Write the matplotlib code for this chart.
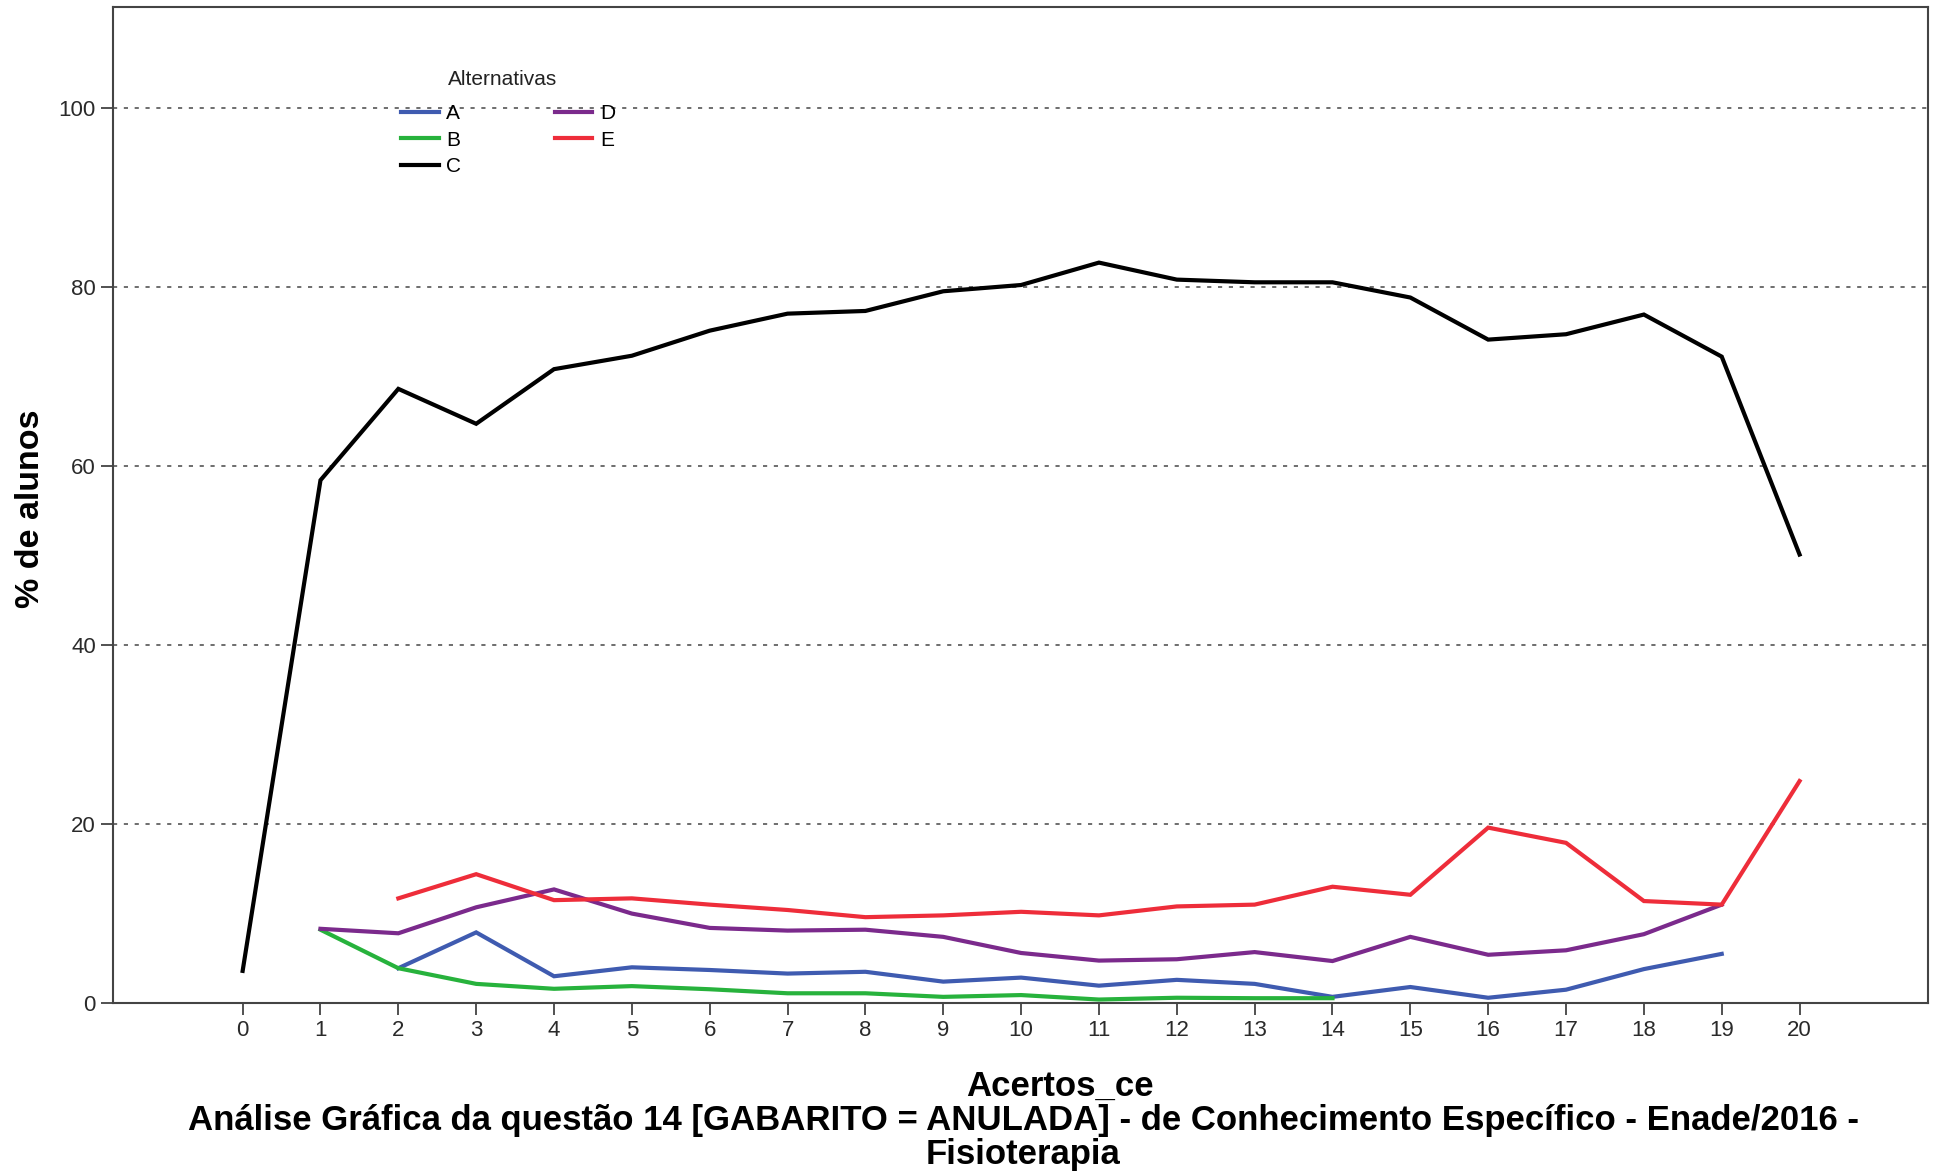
import matplotlib
matplotlib.use("Agg")
import matplotlib.pyplot as plt
import numpy as np

plt.rcParams['font.family'] = ['Liberation Sans', 'DejaVu Sans']

acertos = list(range(0, 21))

# percentage of students choosing each alternative, by number of correct answers
alt_A = [None, None, 3.9, 7.9, 3.0, 4.0, 3.7, 3.3, 3.5, 2.4, 2.85, 1.95, 2.6, 2.15, 0.7, 1.8, 0.6, 1.5, 3.8, 5.5, None]
alt_B = [None, 8.2, 3.9, 2.15, 1.6, 1.9, 1.55, 1.1, 1.1, 0.7, 0.9, 0.4, 0.6, 0.55, 0.55, None, None, None, None, None, None]
alt_C = [3.6, 58.4, 68.6, 64.7, 70.8, 72.3, 75.1, 77.0, 77.3, 79.5, 80.2, 82.7, 80.8, 80.5, 80.5, 78.8, 74.1, 74.7, 76.9, 72.2, 50.1]
alt_D = [None, 8.3, 7.8, 10.7, 12.7, 10.0, 8.4, 8.1, 8.2, 7.4, 5.6, 4.75, 4.9, 5.7, 4.7, 7.4, 5.4, 5.9, 7.7, 11.0, None]
alt_E = [None, None, 11.7, 14.4, 11.5, 11.7, 11.0, 10.4, 9.6, 9.8, 10.2, 9.8, 10.8, 11.0, 13.0, 12.1, 19.6, 17.9, 11.4, 11.0, 24.8]

series = [("A", alt_A, "#3f5bb0"),
          ("B", alt_B, "#27b23c"),
          ("C", alt_C, "#000000"),
          ("D", alt_D, "#7b2a8c"),
          ("E", alt_E, "#ee2d3a")]

yticks = [0, 20, 40, 60, 80, 100]

fig = plt.figure(figsize=(19.42, 11.76), dpi=100)
ax = fig.add_axes([0.058, 0.147, 0.9348, 0.8467])

for gy in yticks:
    ax.axhline(gy, color="#555555", lw=1.2, ls=(0, (2.5, 4)), zorder=1)

handles = []
for name, vals, col in series:
    y = np.array([np.nan if v is None else v for v in vals], dtype=float)
    h, = ax.plot(acertos, y, color=col, lw=3.0, label=name, zorder=3,
                 solid_joinstyle="miter")
    handles.append(h)

ax.set_xlim(-1.67, 21.65)
ax.set_ylim(0, 111.2)
ax.set_xticks(acertos)
ax.set_xticklabels([str(a) for a in acertos])
ax.set_yticks(yticks)
ax.tick_params(axis="both", direction="out", length=8.5, width=1.2,
               labelsize=16, colors="#333333", labelcolor="#2a2a2a")
ax.tick_params(axis="x", pad=4)
for sp in ax.spines.values():
    sp.set_color("#444444")
    sp.set_linewidth(1.5)

fig.text(0.0155, 0.567, "% de alunos", rotation=90, ha="center", va="center",
         fontsize=24.5, fontweight="bold")
fig.text(0.546, 0.076, "Acertos_ce", ha="center", va="center",
         fontsize=25, fontweight="bold")
fig.text(0.527, 0.0475, "Análise Gráfica da questão 14 [GABARITO = ANULADA] - de Conhecimento Específico - Enade/2016 -",
         ha="center", va="center", fontsize=25, fontweight="bold")
fig.text(0.527, 0.018, "Fisioterapia", ha="center", va="center",
         fontsize=25, fontweight="bold")

# legend block: title drawn separately above the two columns of entries
fig.text(503 / 1942, 1 - 79.5 / 1176, "Alternativas", ha="center", va="center",
         fontsize=15, color="#222222")
leg = ax.legend(handles=handles, ncol=2, frameon=False,
                loc="upper left", bbox_to_anchor=(391 / 1942, 1 - 94 / 1176),
                bbox_transform=fig.transFigure, fontsize=15,
                borderpad=0, handlelength=1.8, handletextpad=0.35,
                columnspacing=4.5, labelspacing=0.35)
leg.set_zorder(5)

fig.savefig("out.png", dpi=100)
